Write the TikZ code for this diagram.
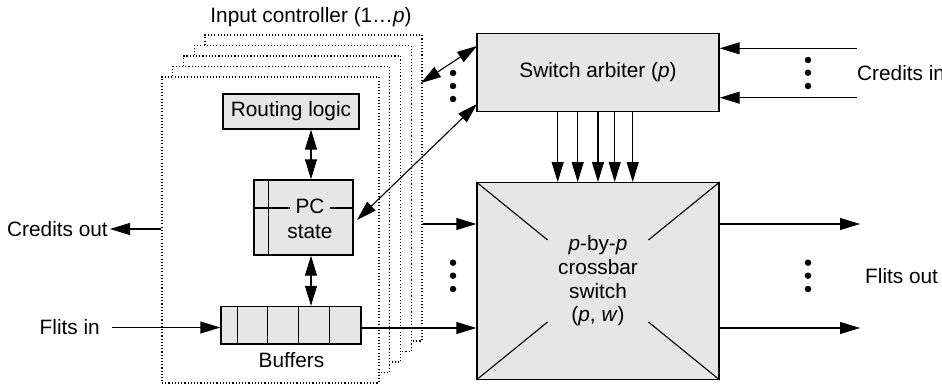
\documentclass[tikz,border=0pt]{standalone}
\usepackage{fontspec}
\setmainfont{Liberation Sans}
\usetikzlibrary{arrows.meta,calc}
\definecolor{boxfill}{RGB}{230,230,230}
\begin{document}
\begin{tikzpicture}[x=1pt,y=-1pt,
  every node/.style={font=\fontsize{20.8}{23.7}\selectfont, inner sep=0pt},
  unit/.style={draw, line width=1.4pt, fill=boxfill, rectangle, inner sep=0pt},
  icbox/.style={draw, dash pattern=on 1.1pt off 2.1pt, line width=1.1pt, fill=white,
    minimum width=217pt, minimum height=306pt},
  conn/.style={line width=1.1pt},
  arr/.style={conn, -{Triangle[length=20pt,width=12pt]}},
  darr/.style={conn, {Triangle[length=20pt,width=12pt]}-{Triangle[length=20pt,width=12pt]}},
  dot/.style={circle, fill=black, minimum size=6.5pt, inner sep=0pt}
]
\useasboundingbox (0,0) rectangle (942,385);

% stack of input controllers, back to front
\foreach \k in {4,3,2,1,0}
  \node[icbox] (ic\k) at ({270.5+10.75*\k},{230-10.5*\k}) {};
\node (ictitle) at (311,17) {Input controller (1…\textit{p})};

% routing logic
\node[unit, minimum width=136pt, minimum height=35pt] (rl) at (291,111.5) {Routing logic};

% PC state
\node[unit, minimum width=99pt, minimum height=75pt] (pc) at (303.5,217.5) {};
\draw[line width=1.4pt] ($(pc.north west)+(15,0)$) -- ($(pc.south west)+(15,0)$);
\node[anchor=base, inner xsep=5pt] (pcl) at (310,213.3) {PC};
\node[anchor=base] (pcs) at (310,238) {state};
\coordinate (pcrow) at (0,208);
\draw[line width=1.4pt] (pc.west |- pcrow) -- (pcl.west |- pcrow)
                        (pcl.east |- pcrow) -- (pc.east |- pcrow);

% buffers
\node[unit, minimum width=140pt, minimum height=37.5pt] (buf) at (291,325.25) {};
\foreach \d in {17,47,78,109}
  \draw[line width=1.4pt] (buf.north west) ++(\d,0) -- ++(0,37.5);
\node (buflabel) at (291.5,360) {Buffers};

% switch arbiter and crossbar
\node[unit, minimum width=242pt, minimum height=78.2pt] (arb) at (598,72.4) {Switch arbiter (\textit{p})};
\node[unit, minimum width=242pt, minimum height=196.6pt] (xb) at (598,281) {};
\foreach \c in {north west,north east,south west,south east}
  \draw[conn] (xb.\c) -- ($(xb.\c)!0.585!(xb.center)$);
\node[align=center] (xbl) at (598,281)
  {\textit{p}-by-\textit{p}\\crossbar\\switch\\(\textit{p}, \textit{w})};

% internal connections
\coordinate (ax) at (311,0);
\draw[darr] (ax |- rl.south) -- (ax |- pc.north);
\draw[darr] (ax |- pc.south) -- (ax |- buf.north);

% requests and grants between controllers and arbiter
\coordinate (pcport) at (357,220);
\coordinate (arbport) at (477,104);
\draw[darr] (pcport) -- (arbport);
\coordinate (icport) at (421,83);
\coordinate (arbtop) at (477,46);
\draw[darr] (icport) -- (arbtop);
\foreach \y [count=\i] in {73,86,99} \node[dot] (da\i) at (453,\y) {};

% arbiter drives the crossbar
\foreach \x [count=\i] in {557.7,577.7,598,614.7,632.7} {
  \coordinate (g\i) at (\x,0);
  \draw[arr] (g\i |- arb.south) -- (g\i |- xb.north);
}

% credits in
\node[anchor=west] (cin) at (857,73) {Credits in};
\coordinate (cinA) at (857,48.3);
\coordinate (cinB) at (857,97.7);
\draw[arr] (cinA) -- (cinA -| arb.east);
\draw[arr] (cinB) -- (cinB -| arb.east);
\foreach \y [count=\i] in {60,72.7,86} \node[dot] (dc\i) at (808,\y) {};

% credits out
\node[anchor=east] (cout) at (108,229) {Credits out};
\draw[arr] (ic0.west |- cout) -- ([xshift=2pt]cout.east);

% flits in
\node[anchor=east] (fin) at (100,327) {Flits in};
\coordinate (finstart) at (111.7,327.5);
\draw[arr] (finstart) -- (buf.west |- finstart);

% datapath into and out of the crossbar
\coordinate (row1) at (0,224);
\coordinate (row2) at (0,328);
\draw[arr] (ic4.east |- row1) -- (xb.west |- row1);
\draw[arr] (buf.east |- row2) -- (xb.west |- row2);
\foreach \y [count=\i] in {262.7,275.7,289} \node[dot] (di\i) at (453,\y) {};

\coordinate (outend) at (860,0);
\draw[arr] (xb.east |- row1) -- (outend |- row1);
\draw[arr] (xb.east |- row2) -- (outend |- row2);
\foreach \y [count=\i] in {262.7,275.7,289} \node[dot] (do\i) at (808,\y) {};
\node[anchor=west] (fout) at (865,276) {Flits out};
\end{tikzpicture}
\end{document}
